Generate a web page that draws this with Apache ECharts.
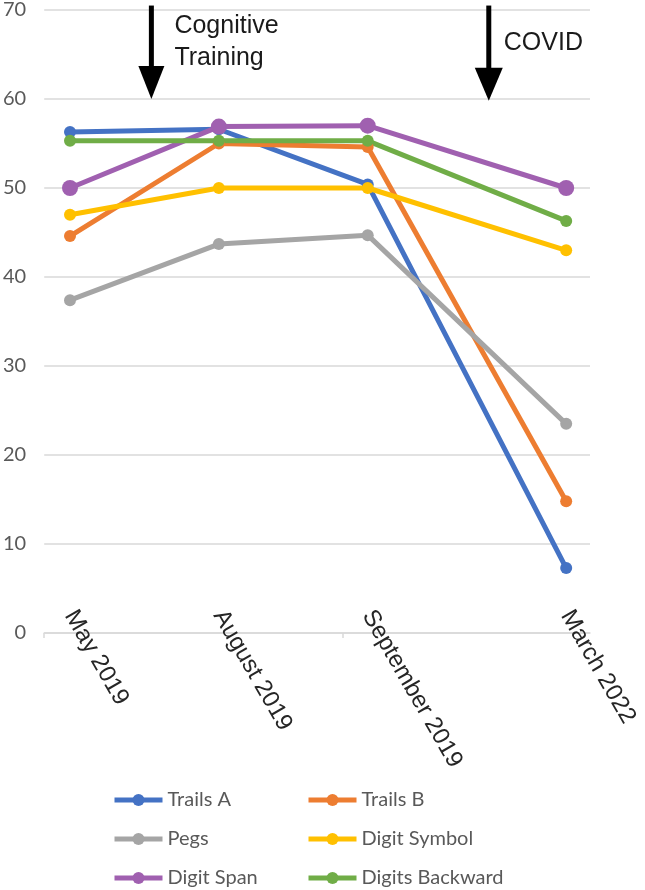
<!DOCTYPE html>
<html>
<head>
<meta charset="utf-8">
<script src="https://cdn.jsdelivr.net/npm/echarts@6/dist/echarts.min.js"></script>
<style>
  html, body { margin: 0; padding: 0; background: #ffffff; }
  #chart { width: 645px; height: 890px; }
</style>
</head>
<body>
<div id="chart"></div>
<script>
// ---- data ----
const categories = ['May 2019', 'August 2019', 'September 2019', 'March 2022'];
const xPositions = [0, 3, 6, 10];
const trailsA = [56.3, 56.6, 50.4, 7.3];
const trailsB = [44.6, 55.0, 54.6, 14.8];
const pegs = [37.4, 43.7, 44.7, 23.5];
const digitSymbol = [47.0, 50.0, 50.0, 43.0];
const digitSpan = [50.0, 56.9, 57.0, 50.0];
const digitsBackward = [55.3, 55.3, 55.3, 46.3];
const yMin = 0, yMax = 70, yStep = 10;
const annotationX = [1.64, 8.44];
const annotationTip = [60.0, 59.8];
const annotationTop = 70.5;
const annotationText = ['Cognitive\nTraining', 'COVID'];

// ---- chart ----
const chart = echarts.init(document.getElementById('chart'), null, { renderer: 'canvas' });

const seriesDefs = [
  { name: 'Trails A', values: trailsA, color: '#4472C4', size: 12 },
  { name: 'Trails B', values: trailsB, color: '#ED7D31', size: 12 },
  { name: 'Pegs', values: pegs, color: '#A5A5A5', size: 12 },
  { name: 'Digit Symbol', values: digitSymbol, color: '#FFC000', size: 12 },
  { name: 'Digit Span', values: digitSpan, color: '#A060B0', size: 16 },
  { name: 'Digits Backward', values: digitsBackward, color: '#70AD47', size: 12 }
];

const legendText = { color: '#595959', fontFamily: 'Lato', fontSize: 20, lineHeight: 20 };
function legendCfg(names, left) {
  return {
    data: names,
    orient: 'vertical', left: left, top: 790, padding: 0, height: 99,
    itemWidth: 48, itemHeight: 15, itemGap: 19,
    lineStyle: { width: 5 },
    textStyle: legendText
  };
}

chart.setOption({
  animation: false,
  backgroundColor: '#ffffff',
  grid: { left: 40, right: 55, top: 6.7, bottom: 257, containLabel: false },
  xAxis: {
    type: 'value',
    min: -0.52,
    max: 10.48,
    splitLine: { show: false },
    axisLine: { show: true, lineStyle: { color: '#d9d9d9', width: 1.5 } },
    axisTick: { show: true, customValues: [-0.52, 5.5], length: 5, lineStyle: { color: '#d9d9d9', width: 1.5 } },
    axisLabel: {
      customValues: xPositions,
      formatter: function (v) {
        const i = xPositions.indexOf(v);
        return i >= 0 ? categories[i] : '';
      },
      rotate: -60,
      margin: -21,
      color: '#262626',
      fontFamily: 'Liberation Sans',
      fontSize: 24
    }
  },
  yAxis: {
    type: 'value',
    min: yMin,
    max: yMax,
    interval: yStep,
    axisLine: { show: false },
    axisTick: { show: false },
    axisLabel: { color: '#595959', fontFamily: 'Lato', fontSize: 20, margin: 18 },
    splitLine: { show: true, lineStyle: { color: '#d9d9d9', width: 1.5 } }
  },
  legend: [
    legendCfg(['Trails A', 'Pegs', 'Digit Span'], 112),
    legendCfg(['Trails B', 'Digit Symbol', 'Digits Backward'], 306)
  ],
  series: seriesDefs.map(function (s) {
    return {
      name: s.name,
      type: 'line',
      data: xPositions.map(function (x, i) { return [x, s.values[i]]; }),
      symbol: 'circle',
      symbolSize: s.size,
      showSymbol: true,
      lineStyle: { color: s.color, width: 5 },
      itemStyle: { color: s.color },
      emphasis: { disabled: true },
      clip: false
    };
  })
});

// annotation arrows placed through the chart's scales
const graphics = [];
annotationX.forEach(function (ax, i) {
  const top = chart.convertToPixel({ gridIndex: 0 }, [ax, annotationTop]);
  const tip = chart.convertToPixel({ gridIndex: 0 }, [ax, annotationTip[i]]);
  const headH = 33, headW = i === 0 ? 26 : 28, shaftW = 5;
  const x = top[0];
  graphics.push({
    type: 'rect',
    shape: { x: x - shaftW / 2, y: top[1], width: shaftW, height: tip[1] - headH - top[1] + 3 },
    style: { fill: '#000000' }, z: 100
  });
  graphics.push({
    type: 'polygon',
    shape: { points: [[x - headW / 2, tip[1] - headH], [x + headW / 2, tip[1] - headH], [x, tip[1]]] },
    style: { fill: '#000000' }, z: 100
  });
  graphics.push({
    type: 'text',
    x: x + (i === 0 ? 23 : 15),
    y: i === 0 ? 10 : 27,
    style: {
      text: annotationText[i],
      fill: '#1a1a1a',
      font: '25px "Liberation Sans"',
      lineHeight: 32,
      verticalAlign: 'top',
      align: 'left'
    },
    z: 100
  });
});
chart.setOption({ graphic: graphics });
</script>
</body>
</html>
